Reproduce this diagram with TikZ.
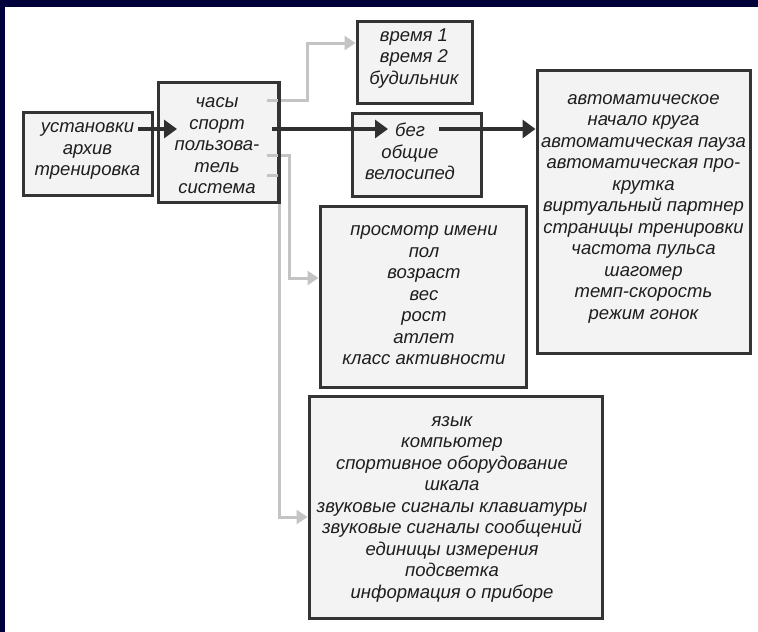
\documentclass[tikz,border=0pt]{standalone}
\usepackage{fontspec}
\setmainfont{Liberation Sans}
\usetikzlibrary{arrows.meta}
\definecolor{navy}{RGB}{0,0,58}
\definecolor{boxfill}{RGB}{243,243,243}
\definecolor{boxline}{RGB}{52,52,52}
\definecolor{darkarrow}{RGB}{48,48,48}
\definecolor{lightarrow}{RGB}{196,196,196}
\definecolor{txt}{RGB}{30,30,30}
\tikzset{
  box/.style={draw=boxline, fill=boxfill, line width=3pt, inner sep=0pt, rectangle},
  label text/.style={align=center, text=txt, inner sep=0pt,
    font=\fontsize{18.5}{21.5}\selectfont\itshape},
  darkarr/.style={draw=darkarrow, line width=3.5pt, -{Triangle[length=13pt,width=18pt]}},
  grayarr/.style={draw=lightarrow, line width=3pt, -{Triangle[length=11pt,width=14pt]}}
}
\begin{document}
\begin{tikzpicture}[x=1pt,y=-1pt]
\useasboundingbox (0,0) rectangle (758,632);
\fill[navy] (0,0) rectangle (758,632);
\fill[white] (5,7) rectangle (758,632);

% boxes
\node[box, minimum width=129pt, minimum height=83pt] (A) at (87.5,153.5) {};
\node[box, minimum width=120pt, minimum height=120pt] (B) at (218,142) {};
\node[box, minimum width=115pt, minimum height=82pt] (C) at (414.5,62) {};
\node[box, minimum width=129pt, minimum height=83pt] (D) at (416.5,154.5) {};
\node[box, minimum width=213pt, minimum height=283pt] (E) at (643.5,211.5) {};
\node[box, minimum width=206pt, minimum height=181pt] (F) at (423,296.5) {};
\node[box, minimum width=293pt, minimum height=222pt] (G) at (455.5,507) {};

% texts
\node[label text] (At) at (87.5,151) {установки\\архив\\тренировка};
\node[label text] (Bt) at (217,146) {часы\\спорт\\пользова-\\тель\\система};
\node[label text] (Ct) at (414,58.5) {время 1\\время 2\\будильник};
\node[label text] (Dt) at (410,151.5) {бег\\общие\\велосипед};
\node[label text] (Et) at (643.5,208.5) {автоматическое\\начало круга\\автоматическая пауза\\автоматическая про-\\крутка\\виртуальный партнер\\страницы тренировки\\частота пульса\\шагомер\\темп-скорость\\режим гонок};
\node[label text] (Ft) at (424,295.5) {просмотр имени\\пол\\возраст\\вес\\рост\\атлет\\класс активности};
\node[label text] (Gt) at (452,509) {язык\\компьютер\\спортивное оборудование\\шкала\\звуковые сигналы клавиатуры\\звуковые сигналы сообщений\\единицы измерения\\подсветка\\информация о приборе};

% connector anchor points
\coordinate (aOut) at (138,129);
\coordinate (bIn) at (177,129);
\coordinate (bOut) at (272,129);
\coordinate (dIn) at (388,129);
\coordinate (dOut) at (439,129);
\coordinate (bC) at (267,100);
\coordinate (bF) at (267,155);
\coordinate (bG) at (267,175);

% gray connectors
\draw[grayarr] (bC) -- (307,100) -- (307,43) -- (C.west |- 0,43);
\draw[grayarr] (bF) -- (289,155) -- (289,278) -- (F.west |- 0,278);
\draw[grayarr] (bG) -- (279,175) -- (279,517) -- (G.west |- 0,517);
\draw[boxline, line width=3pt] (B.north east) -- (B.south east);

% dark connectors
\draw[darkarr] (aOut) -- (bIn);
\draw[darkarr] (bOut) -- (dIn);
\draw[darkarr] (dOut) -- (dOut -| E.west);
\end{tikzpicture}
\end{document}
